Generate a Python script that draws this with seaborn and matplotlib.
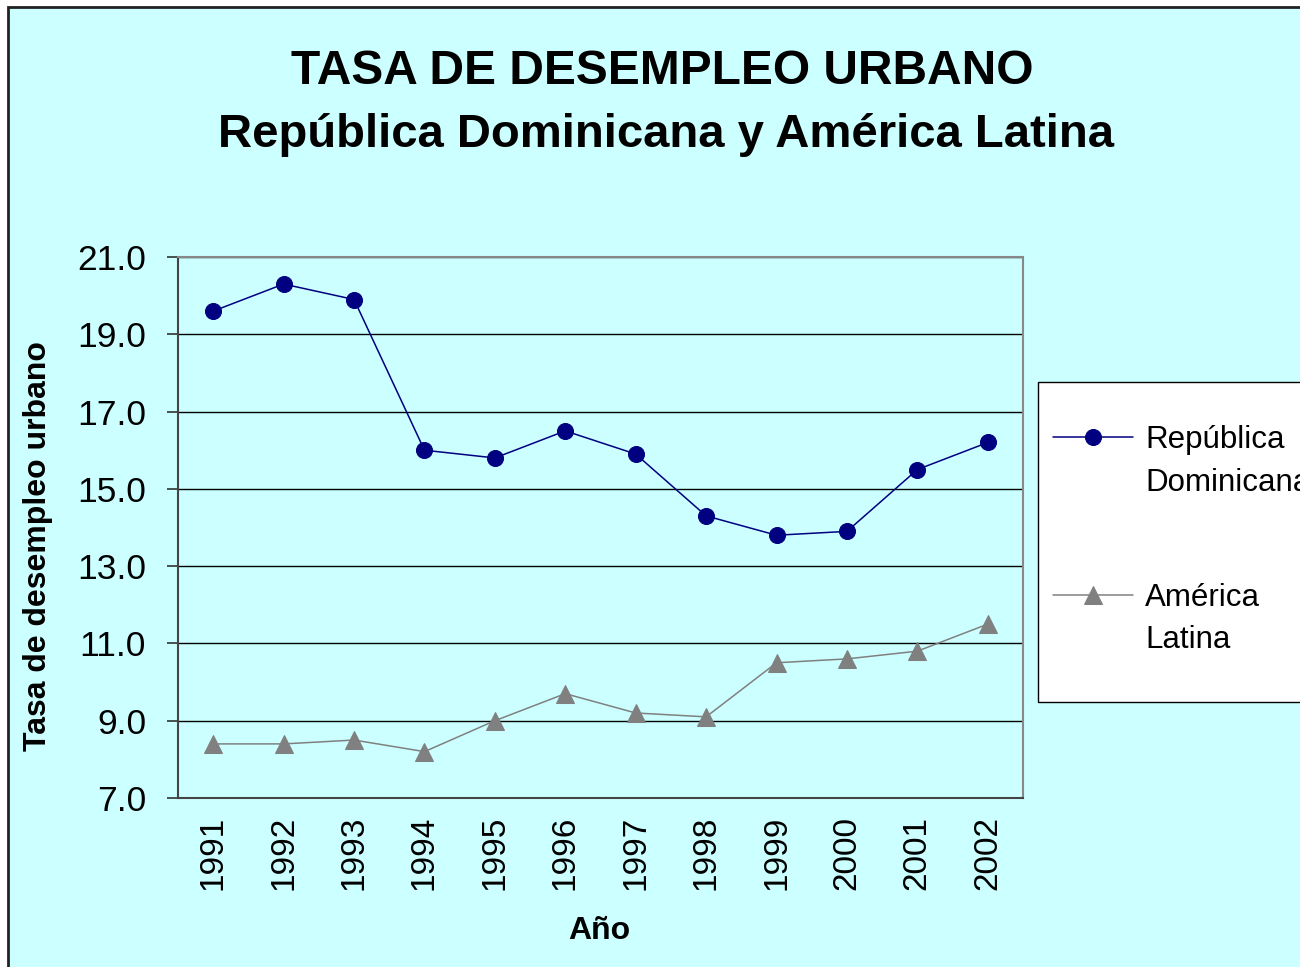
import matplotlib
matplotlib.use("Agg")
import matplotlib.pyplot as plt
from matplotlib.patches import Rectangle
from matplotlib.ticker import FixedLocator
import numpy as np
import pandas as pd
import seaborn as sns

# data
years = ["1991", "1992", "1993", "1994", "1995", "1996",
         "1997", "1998", "1999", "2000", "2001", "2002"]
rep_dominicana = [19.6, 20.3, 19.9, 16.0, 15.8, 16.5, 15.9, 14.3, 13.8, 13.9, 15.5, 16.2]
america_latina = [8.4, 8.4, 8.5, 8.2, 9.0, 9.7, 9.2, 9.1, 10.5, 10.6, 10.8, 11.5]
y_ticks = [7.0, 9.0, 11.0, 13.0, 15.0, 17.0, 19.0, 21.0]

sns.set_style("white")
plt.rcParams["font.family"] = ["Liberation Sans", "DejaVu Sans"]
plt.rcParams["text.color"] = "black"
plt.rcParams["axes.labelcolor"] = "black"
plt.rcParams["xtick.color"] = "black"
plt.rcParams["ytick.color"] = "black"

bg = "#CCFFFF"
pos = np.arange(len(years))
df = pd.DataFrame({"pos": pos, "rd": rep_dominicana, "al": america_latina})

fig = plt.figure(figsize=(13, 9.67), dpi=100)
fig.patch.set_facecolor("white")
# outer chart border (runs off the right/bottom edge like the original)
fig.patches.append(Rectangle((8 / 1300, -0.1), 1.2, 1.1 - 7 / 967,
                             transform=fig.transFigure, facecolor=bg,
                             edgecolor="#222222", linewidth=2, zorder=-5))

ax = fig.add_axes([178 / 1300, 1 - 798 / 967, 845 / 1300, 541 / 967])
ax.set_facecolor(bg)

sns.lineplot(data=df, x="pos", y="rd", ax=ax, color="#000080", linewidth=1.1,
             marker="o", markersize=11.5, markeredgecolor="#000080",
             label="República", zorder=3)
sns.lineplot(data=df, x="pos", y="al", ax=ax, color="#808080", linewidth=1.1,
             marker="^", markersize=13, markeredgecolor="#808080",
             label="América", zorder=3)

ax.set_xlim(-0.5, len(years) - 0.5)
ax.set_ylim(7, 21)
ax.set_yticks(y_ticks)
ax.set_yticklabels([f"{v:.1f}" for v in y_ticks], fontsize=25.5)
ax.set_xticks(pos)
ax.set_xticklabels(years, rotation=90, fontsize=24)
ax.xaxis.set_minor_locator(FixedLocator(np.arange(-0.5, len(years), 1.0)))
ax.tick_params(axis="x", which="major", length=0, pad=13)
ax.tick_params(axis="x", which="minor", length=6, width=1.2, color="#333333", direction="out")
ax.tick_params(axis="y", length=8, width=1.2, color="#333333", direction="out", pad=15, left=True)

ax.grid(axis="y", color="black", linewidth=1)
ax.set_axisbelow(True)
for side in ["left", "bottom"]:
    ax.spines[side].set_color("#444444")
    ax.spines[side].set_linewidth(1.5)
for side in ["top", "right"]:
    ax.spines[side].set_visible(True)
    ax.spines[side].set_color("#888888")
    ax.spines[side].set_linewidth(1.5)

ax.set_xlabel("Año", fontsize=23, fontweight="bold", va="center")
ax.xaxis.set_label_coords(0.498, -0.246)
ax.set_ylabel("Tasa de desempleo urbano", fontsize=23, fontweight="bold", va="center")
ax.yaxis.set_label_coords(-0.166, 0.466)

fig.text(662 / 1300, 1 - 72 / 967, "TASA DE DESEMPLEO URBANO", fontsize=34.5,
         fontweight="bold", ha="center", va="center")
fig.text(666 / 1300, 1 - 135 / 967, "República Dominicana y América Latina", fontsize=34,
         fontweight="bold", ha="center", va="center")

# legend box, cut by the right edge as in the original
fig.patches.append(Rectangle((1038 / 1300, 1 - 702 / 967), 0.3, 320 / 967,
                             transform=fig.transFigure, facecolor="white",
                             edgecolor="black", linewidth=1, zorder=2))
handles, labels = ax.get_legend_handles_labels()
ax.get_legend().remove()
fig.legend(handles, labels, loc="upper left", bbox_to_anchor=(1053 / 1300, 1 - 425 / 967),
           bbox_transform=fig.transFigure, borderaxespad=0, borderpad=0, fontsize=22.5,
           frameon=False, handlelength=2.56, handletextpad=0.38, labelspacing=4.1)
fig.text(1145 / 1300, 1 - 483 / 967, "Dominicana", fontsize=22.5, va="center", ha="left", zorder=6)
fig.text(1145 / 1300, 1 - 640 / 967, "Latina", fontsize=22.5, va="center", ha="left", zorder=6)

fig.savefig("out.png", dpi=100, facecolor=fig.get_facecolor())
